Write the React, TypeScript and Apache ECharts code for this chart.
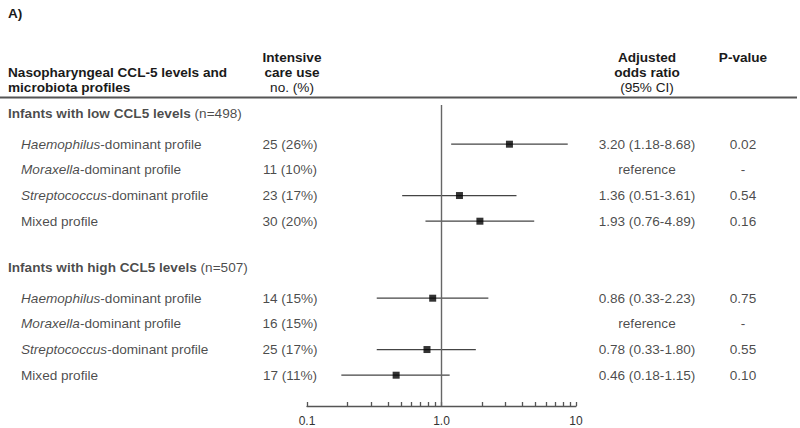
import React, { useEffect, useRef } from "react";
import * as echarts from "echarts";

// ---- data ----
const groupTitles = ["Infants with low CCL5 levels", "Infants with high CCL5 levels"];
const groupN = [498, 507];
const profileLabels = [
  "{i|Haemophilus}-dominant profile",
  "{i|Moraxella}-dominant profile",
  "{i|Streptococcus}-dominant profile",
  "Mixed profile",
];
const icuCounts = [
  [25, 11, 23, 30],
  [14, 16, 25, 17],
];
const icuPct = [
  [26, 10, 17, 20],
  [15, 15, 17, 11],
];
const oddsRatio = [
  [3.2, null, 1.36, 1.93],
  [0.86, null, 0.78, 0.46],
];
const ciLow = [
  [1.18, null, 0.51, 0.76],
  [0.33, null, 0.33, 0.18],
];
const ciHigh = [
  [8.68, null, 3.61, 4.89],
  [2.23, null, 1.8, 1.15],
];
const pValues = [
  ["0.02", "-", "0.54", "0.16"],
  ["0.75", "-", "0.55", "0.10"],
];
const xTickLabels = [0.1, 1, 10];
const xMinorTicks = [0.1, 0.2, 0.3, 0.4, 0.5, 0.6, 0.7, 0.8, 0.9, 1, 2, 3, 4, 5, 6, 7, 8, 9, 10];

// ---- layout ----
const FONT = "Liberation Sans, Arial, sans-serif";
const FS = 13.6;
const TXT = "#1a1a1a";
const GRID_TOP = 98;
const GRID_H = 308;
const Y_MIN = -1.8;
const Y_MAX = 10.2;
const COL_TITLE = 8;
const COL_LABEL = 21;
const COL_ICU = 290;
const COL_OR = 647;
const COL_P = 743;

const rowY = (g: number, k: number) => g * 6 + k;
const headerY = (g: number) => g * 6 - 1.2;

export default function App() {
  const ref = useRef<HTMLDivElement>(null);
  useEffect(() => {
    if (!ref.current) return;
    const chart = echarts.init(ref.current, null, { renderer: "svg" });

    const leftTexts: any[] = [];
    const centerTexts: any[] = [];
    const ciData: any[] = [];
    const ptData: any[] = [];
    groupTitles.forEach((t, g) => {
      leftTexts.push({ name: `{b|${t}} (n=${groupN[g]})`, value: [COL_TITLE, headerY(g)] });
      profileLabels.forEach((lab, k) => {
        const y = rowY(g, k);
        leftTexts.push({ name: lab, value: [COL_LABEL, y] });
        centerTexts.push({ name: `${icuCounts[g][k]} (${icuPct[g][k]}%)`, value: [COL_ICU, y] });
        const or = oddsRatio[g][k];
        const orTxt =
          or == null
            ? "reference"
            : `${or.toFixed(2)} (${(ciLow[g][k] as number).toFixed(2)}-${(ciHigh[g][k] as number).toFixed(2)})`;
        centerTexts.push({ name: orTxt, value: [COL_OR, y] });
        centerTexts.push({ name: pValues[g][k], value: [COL_P, y] });
        if (or != null) {
          ciData.push([ciLow[g][k], y, ciHigh[g][k]]);
          ptData.push([or, y]);
        }
      });
    });

    const yAxisCfg = (gi: number) => ({
      type: "value",
      gridIndex: gi,
      min: Y_MIN,
      max: Y_MAX,
      inverse: true,
      show: false,
    });

    const labelBase = {
      show: true,
      position: "inside",
      verticalAlign: "middle",
      color: TXT,
      fontFamily: FONT,
      fontSize: FS,
      formatter: (p: any) => p.name,
      rich: {
        i: { fontStyle: "italic", fontFamily: FONT, fontSize: FS, color: TXT },
        b: { fontWeight: "bold", fontFamily: FONT, fontSize: FS, color: TXT },
      },
    };

    const headerText = (x: number, y: number, text: string, bold: boolean, align = "center") => ({
      type: "text",
      x,
      y,
      style: {
        text,
        fill: TXT,
        font: `${bold ? "bold " : ""}${FS}px ${FONT}`,
        align,
        verticalAlign: "middle",
      },
    });

    chart.setOption({
      animation: false,
      grid: [
        { left: 307, width: 269, top: GRID_TOP, height: GRID_H },
        { left: 0, width: 800, top: GRID_TOP, height: GRID_H },
      ],
      xAxis: [
        {
          type: "log",
          logBase: 10,
          gridIndex: 0,
          min: 0.1,
          max: 10,
          position: "bottom",
          axisLine: { show: true, onZero: false, lineStyle: { color: "#555", width: 1.3 } },
          axisTick: {
            show: true,
            inside: true,
            length: 4,
            customValues: xMinorTicks,
            lineStyle: { color: "#555", width: 1.3 },
          },
          axisLabel: {
            show: true,
            customValues: xTickLabels,
            margin: 9,
            color: "#333",
            fontFamily: FONT,
            fontSize: 12,
            formatter: (v: number) => (v === 1 ? "1.0" : String(v)),
          },
          splitLine: { show: false },
        },
        { type: "value", gridIndex: 1, min: 0, max: 800, show: false },
      ],
      yAxis: [yAxisCfg(0), yAxisCfg(1)],
      graphic: [
        headerText(8, 13, "A)", true, "left"),
        headerText(8, 72, "Nasopharyngeal CCL-5 levels and", true, "left"),
        headerText(8, 87, "microbiota profiles", true, "left"),
        headerText(292, 57, "Intensive", true),
        headerText(292, 72, "care use", true),
        headerText(292, 87, "no. (%)", false),
        headerText(647, 57, "Adjusted", true),
        headerText(647, 72, "odds ratio", true),
        headerText(647, 87, "(95% CI)", false),
        headerText(743, 57, "P-value", true),
        {
          type: "line",
          shape: { x1: 0, y1: 97.5, x2: 797, y2: 97.5 },
          style: { stroke: "#555", lineWidth: 2 },
        },
      ],
      series: [
        {
          type: "line",
          xAxisIndex: 0,
          yAxisIndex: 0,
          data: [
            [1, -1.53],
            [1, Y_MAX],
          ],
          symbol: "none",
          lineStyle: { color: "#666", width: 1.4 },
          silent: true,
        },
        {
          type: "custom",
          xAxisIndex: 0,
          yAxisIndex: 0,
          data: ciData,
          encode: { x: [0, 2], y: 1 },
          renderItem: (params: any, api: any) => {
            const y = api.value(1);
            const p1 = api.coord([api.value(0), y]);
            const p2 = api.coord([api.value(2), y]);
            return {
              type: "line",
              shape: { x1: p1[0], y1: p1[1], x2: p2[0], y2: p2[1] },
              style: { stroke: "#444", lineWidth: 1.3 },
            };
          },
          silent: true,
        },
        {
          type: "scatter",
          xAxisIndex: 0,
          yAxisIndex: 0,
          data: ptData,
          symbol: "rect",
          symbolSize: 7,
          itemStyle: { color: "#000" },
          silent: true,
        },
        {
          type: "scatter",
          xAxisIndex: 1,
          yAxisIndex: 1,
          data: leftTexts,
          symbolSize: 0,
          silent: true,
          label: { ...labelBase, align: "left" },
        },
        {
          type: "scatter",
          xAxisIndex: 1,
          yAxisIndex: 1,
          data: centerTexts,
          symbolSize: 0,
          silent: true,
          label: { ...labelBase, align: "center" },
        },
      ],
    });
    return () => chart.dispose();
  }, []);
  return (
    <div
      ref={ref}
      style={{ position: "fixed", left: 0, top: 0, width: 800, height: 428, background: "#fff" }}
    />
  );
}
